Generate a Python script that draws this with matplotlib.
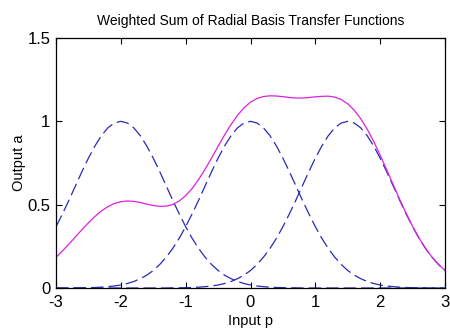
import matplotlib
matplotlib.use("Agg")
import matplotlib.pyplot as plt
import numpy as np

plt.rcParams['font.family'] = ['Liberation Sans', 'DejaVu Sans']

# input values p = -3:0.1:3
p = np.round(np.arange(-3.0, 3.01, 0.1), 1)

# radbas(p)
a = [0.000, 0.000, 0.000, 0.001, 0.001, 0.002, 0.003, 0.005, 0.008, 0.012,
     0.018, 0.027, 0.039, 0.056, 0.077, 0.105, 0.141, 0.185, 0.237, 0.298,
     0.368, 0.445, 0.527, 0.613, 0.698, 0.779, 0.852, 0.914, 0.961, 0.990,
     1.000,
     0.990, 0.961, 0.914, 0.852, 0.779, 0.698, 0.613, 0.527, 0.445, 0.368,
     0.298, 0.237, 0.185, 0.141, 0.105, 0.077, 0.056, 0.039, 0.027, 0.018,
     0.012, 0.008, 0.005, 0.003, 0.002, 0.001, 0.001, 0.000, 0.000, 0.000]

# radbas(p - 1.5)
a2 = [0.000, 0.000, 0.000, 0.000, 0.000, 0.000, 0.000, 0.000, 0.000, 0.000,
      0.000, 0.000, 0.000, 0.000, 0.000, 0.000, 0.000, 0.000, 0.001, 0.001,
      0.002, 0.003, 0.005, 0.008, 0.012, 0.018, 0.027, 0.039, 0.056, 0.077,
      0.105, 0.141, 0.185, 0.237, 0.298, 0.368, 0.445, 0.527, 0.613, 0.698,
      0.779, 0.852, 0.914, 0.961, 0.990, 1.000, 0.990, 0.961, 0.914, 0.852,
      0.779, 0.698, 0.613, 0.527, 0.445, 0.368, 0.298, 0.237, 0.185, 0.141,
      0.105]

# radbas(p + 2)
a3 = [0.368, 0.445, 0.527, 0.613, 0.698, 0.779, 0.852, 0.914, 0.961, 0.990,
      1.000, 0.990, 0.961, 0.914, 0.852, 0.779, 0.698, 0.613, 0.527, 0.445,
      0.368, 0.298, 0.237, 0.185, 0.141, 0.105, 0.077, 0.056, 0.039, 0.027,
      0.018, 0.012, 0.008, 0.005, 0.003, 0.002, 0.001, 0.001, 0.000, 0.000,
      0.000, 0.000, 0.000, 0.000, 0.000, 0.000, 0.000, 0.000, 0.000, 0.000,
      0.000, 0.000, 0.000, 0.000, 0.000, 0.000, 0.000, 0.000, 0.000, 0.000,
      0.000]

# weighted sum a + a2 + 0.5*a3
a4 = [0.184, 0.223, 0.264, 0.307, 0.350, 0.391, 0.429, 0.462, 0.488, 0.507,
      0.518, 0.522, 0.520, 0.513, 0.503, 0.495, 0.490, 0.491, 0.501, 0.522,
      0.554, 0.597, 0.651, 0.713, 0.780, 0.850, 0.918, 0.981, 1.036, 1.081,
      1.115, 1.137, 1.149, 1.153, 1.152, 1.148, 1.143, 1.140, 1.140, 1.143,
      1.147, 1.150, 1.151, 1.145, 1.131, 1.105, 1.067, 1.016, 0.953, 0.879,
      0.797, 0.710, 0.621, 0.532, 0.448, 0.370, 0.299, 0.238, 0.185, 0.141,
      0.106]

fig = plt.figure(figsize=(4.5, 3.35), dpi=100)
ax = fig.add_axes([56 / 450, 1 - 288 / 335, 389 / 450, 250 / 335])

blue = '#2a2ab4'
dash = (0, (10, 4))
ax.plot(p, a, color=blue, lw=0.9, linestyle=dash)
ax.plot(p, a2, color=blue, lw=0.9, linestyle=dash)
ax.plot(p, a3, color=blue, lw=0.9, linestyle=dash)
ax.plot(p, a4, color='#e020e0', lw=0.9)

ax.set_xlim(-3, 3)
ax.set_ylim(0, 1.5)
ax.set_xticks([-3, -2, -1, 0, 1, 2, 3])
ax.set_xticklabels(['-3', '-2', '-1', '0', '1', '2', '3'])
ax.set_yticks([0, 0.5, 1, 1.5])
ax.set_yticklabels(['0', '0.5', '1', '1.5'])
ax.tick_params(direction='in', top=True, right=True, length=4, width=0.8,
               labelsize=12)
ax.tick_params(axis='x', pad=5)
ax.tick_params(axis='y', pad=4)
for s in ax.spines.values():
    s.set_linewidth(0.9)

ax.set_title('Weighted Sum of Radial Basis Transfer Functions', fontsize=10, pad=9)
ax.set_xlabel('Input p', fontsize=10.5, labelpad=3)
ax.set_ylabel('Output a', fontsize=10.5, labelpad=1)

fig.savefig('out.png', dpi=100)
